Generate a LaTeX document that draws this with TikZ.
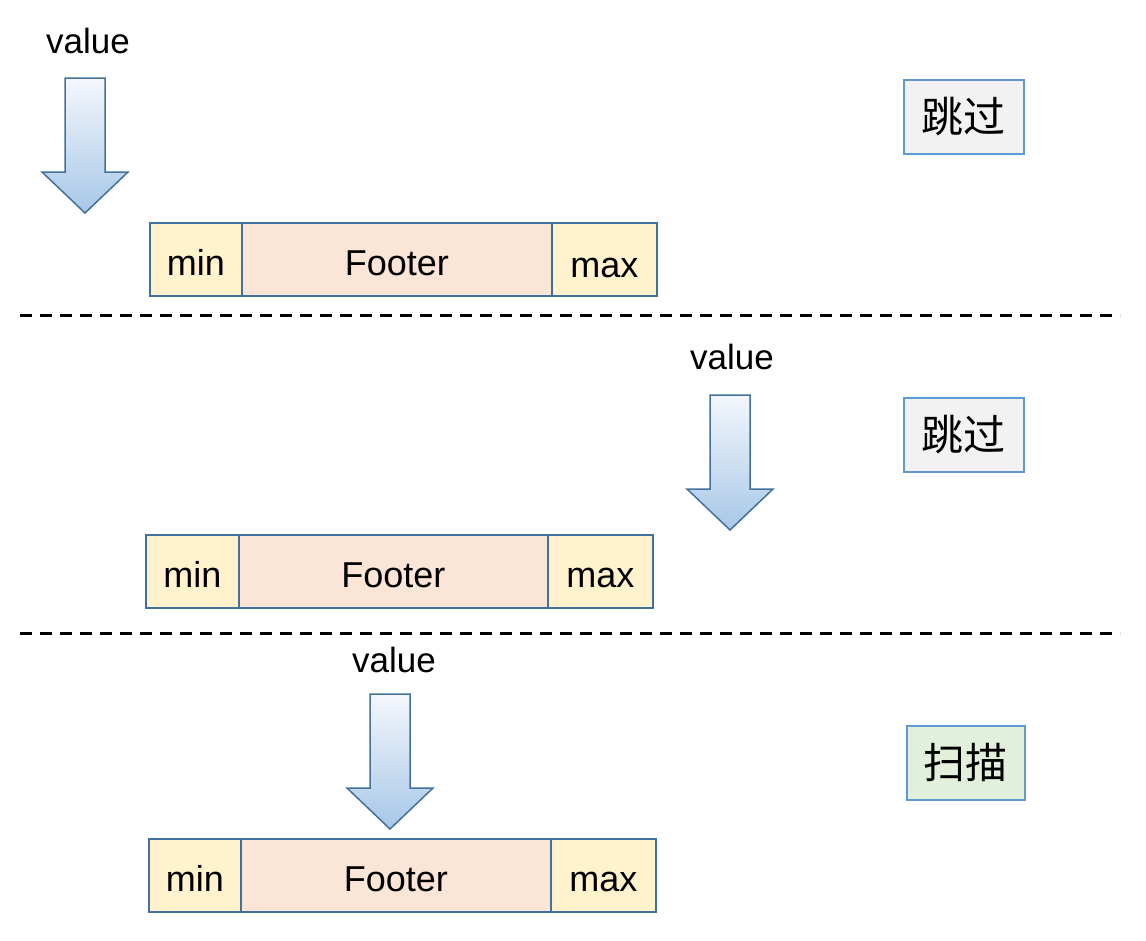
\documentclass[tikz,border=0pt]{standalone}
\usepackage{fontspec}
\setmainfont{Liberation Sans}
\newfontfamily\cjk{Noto Sans CJK SC}
\definecolor{boxline}{HTML}{41719C}
\definecolor{mmfill}{HTML}{FFF2CC}
\definecolor{ftfill}{HTML}{FBE5D6}
\definecolor{lblline}{HTML}{5B9BD5}
\definecolor{grayfill}{HTML}{F2F2F2}
\definecolor{greenfill}{HTML}{E2EFDA}
\definecolor{arrtop}{HTML}{F4F7FC}
\definecolor{arrbot}{HTML}{A7C7E7}
\tikzset{
  cell/.style={draw=boxline, line width=1.8pt, minimum height=73pt, inner sep=0pt, text height=33pt, text depth=0pt, font=\fontsize{36}{42}\selectfont, anchor=north west},
  mmcell/.style={cell, fill=mmfill},
  ftcell/.style={cell, fill=ftfill},
  lbl/.style={draw=lblline, line width=1.8pt, minimum width=120pt, minimum height=74pt, inner sep=0pt, font=\cjk\fontsize{42}{48}\selectfont, anchor=north west},
  valtxt/.style={font=\fontsize{35}{40}\selectfont, inner sep=0pt},
  sep/.style={line width=3pt, dash pattern=on 12pt off 8pt},
  downarrow/.style={draw=boxline, line width=1.5pt, top color=arrtop, bottom color=arrbot}
}
\newcommand{\downarr}[2]{% #1 = centre x, #2 = top y
  \path[downarrow] (#1-20,#2) -- (#1+20,#2) -- (#1+20,#2+94) -- (#1+43,#2+94) -- (#1,#2+135) -- (#1-43,#2+94) -- (#1-20,#2+94) -- cycle;
}
\begin{document}
\begin{tikzpicture}[x=1pt,y=-1pt]
\path[use as bounding box] (0,0) rectangle (1146,940);
% section 1
\node[valtxt] (v1) at (88,41) {value};
\downarr{85}{78}
\node[mmcell, minimum width=92pt] (min1) at (149,222) {min};
\node[ftcell, minimum width=310pt] (ft1) at (241,222) {Footer};
\node[mmcell, minimum width=105pt] (max1) at (551,222) {\raisebox{-2pt}{max}};
\node[lbl, fill=grayfill] (l1) at (903,79) {跳过};
\coordinate (d1a) at (20,315); \coordinate (d1b) at (1120,315);
\draw[sep] (d1a) -- (d1b);
% section 2
\node[valtxt] (v2) at (732,357) {value};
\downarr{730}{395}
\node[mmcell, minimum width=93pt] (min2) at (145,534) {min};
\node[ftcell, minimum width=309pt] (ft2) at (238,534) {Footer};
\node[mmcell, minimum width=105pt] (max2) at (547,534) {max};
\node[lbl, fill=grayfill] (l2) at (903,397) {跳过};
\coordinate (d2a) at (20,633); \coordinate (d2b) at (1120,633);
\draw[sep] (d2a) -- (d2b);
% section 3
\node[valtxt] (v3) at (394,660) {value};
\downarr{390}{694}
\node[mmcell, minimum width=92pt] (min3) at (148,838) {min};
\node[ftcell, minimum width=310pt] (ft3) at (240,838) {Footer};
\node[mmcell, minimum width=105pt] (max3) at (550,838) {max};
\node[lbl, fill=greenfill, minimum width=118pt] (l3) at (906,725) {扫描};
\end{tikzpicture}
\end{document}
